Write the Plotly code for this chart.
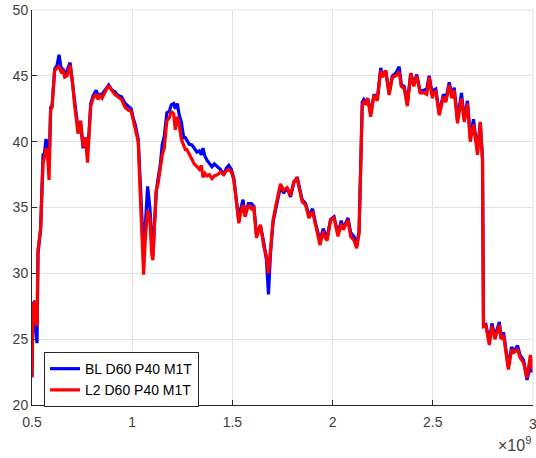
import plotly.graph_objects as go

# x in units of 1e9
x_e9 = [0.500,0.505,0.510,0.515,0.520,0.525,0.530,0.543,0.555,0.562,0.570,0.578,0.585,0.593,0.600,0.613,0.625,0.635,0.645,0.655,
        0.663,0.675,0.690,0.700,0.713,0.730,0.743,0.755,0.767,0.777,0.785,0.793,0.805,0.820,0.830,0.838,0.850,0.863,0.875,0.883,
        0.900,0.913,0.930,0.947,0.965,0.980,0.995,1.005,1.015,1.030,1.040,1.050,1.057,1.065,1.077,1.088,1.097,1.103,1.112,1.120,
        1.130,1.140,1.150,1.160,1.173,1.185,1.195,1.207,1.215,1.225,1.235,1.245,1.257,1.265,1.273,1.285,1.298,1.310,1.323,1.335,
        1.345,1.353,1.363,1.373,1.385,1.398,1.410,1.427,1.440,1.457,1.470,1.482,1.495,1.507,1.515,1.532,1.540,1.553,1.563,1.580,
        1.595,1.607,1.620,1.640,1.657,1.670,1.680,1.690,1.703,1.723,1.740,1.755,1.773,1.790,1.807,1.823,1.835,1.848,1.865,1.882,
        1.900,1.915,1.937,1.953,1.963,1.973,1.990,2.007,2.027,2.043,2.053,2.077,2.090,2.107,2.120,2.132,2.148,2.155,2.165,2.175,
        2.190,2.207,2.223,2.240,2.250,2.265,2.282,2.298,2.315,2.332,2.343,2.357,2.373,2.390,2.405,2.420,2.437,2.457,2.470,2.482,
        2.498,2.503,2.515,2.532,2.553,2.565,2.582,2.595,2.607,2.623,2.643,2.657,2.673,2.687,2.703,2.715,2.723,2.737,2.748,2.753,
        2.765,2.782,2.795,2.810,2.832,2.840,2.853,2.877,2.893,2.905,2.923,2.935,2.953,2.970,2.987,2.993,3.000]

bl = [22.1,27.5,27.8,27.9,25.5,24.7,31.5,33.4,39.0,39.1,40.2,39.5,38.0,42.6,42.7,45.5,45.8,46.6,45.6,45.5,
      45.1,45.4,46.0,44.7,42.8,40.9,41.3,39.5,40.3,39.4,40.8,42.9,43.5,43.9,43.5,43.6,43.6,43.9,44.1,44.3,
      43.9,43.8,43.5,43.4,42.9,42.7,42.5,41.8,41.3,40.2,37.0,33.5,31.5,33.5,36.6,35.0,32.5,31.3,34.0,36.2,
      37.3,38.2,39.8,40.4,42.2,42.3,42.8,42.9,42.5,42.9,42.0,41.5,40.3,40.3,40.1,39.8,39.75,39.5,39.2,39.3,
      39.0,39.5,38.9,38.6,38.4,38.1,38.3,38.1,37.9,37.5,38.0,38.2,37.9,37.2,36.3,34.0,34.8,35.6,34.5,35.3,
      35.3,35.1,33.0,33.6,32.3,31.0,28.4,31.5,33.9,35.5,36.6,36.1,36.5,35.8,36.9,37.3,36.5,35.6,35.3,34.4,
      34.9,33.8,32.5,33.4,33.0,32.8,34.1,34.3,33.0,34.0,33.4,34.2,33.1,32.8,32.1,33.2,43.0,43.2,43.0,43.3,
      42.2,43.6,43.2,45.6,45.0,45.4,43.7,45.0,45.2,45.7,44.3,44.2,42.9,45.2,44.4,45.1,43.8,43.9,44.0,45.0,
      43.5,43.9,44.0,42.2,43.6,43.2,44.5,43.6,44.1,41.7,43.7,41.7,43.1,40.3,41.7,40.2,39.3,41.4,38.7,26.0,
      26.1,24.8,26.2,25.2,26.3,25.2,25.5,22.9,24.4,24.1,24.5,23.8,23.4,21.9,23.0,22.5,22.7]

l2 = [22.1,27.8,26.5,27.9,26.2,26.0,31.8,33.3,38.4,38.8,39.5,38.9,37.1,42.4,42.6,45.4,45.6,45.7,45.3,45.4,
      44.9,45.0,45.8,44.8,42.7,40.6,41.6,39.6,40.3,38.4,40.6,42.7,43.3,43.6,43.2,43.5,43.3,43.8,44.1,44.2,
      43.8,43.6,43.4,43.2,42.6,42.4,42.3,41.6,41.1,40.0,36.0,32.0,29.9,32.5,34.8,34.2,31.5,31.0,33.5,36.3,
      36.9,37.8,39.0,39.5,41.6,41.8,42.3,42.1,40.9,41.9,41.2,40.2,39.6,39.4,39.4,39.0,38.6,38.3,38.1,37.9,
      38.2,37.3,37.6,37.4,37.5,37.2,37.4,37.5,37.7,37.5,37.8,37.9,37.7,37.1,36.1,33.8,34.5,35.2,34.3,35.2,
      34.9,35.0,32.7,33.7,32.0,31.3,30.0,32.0,34.05,35.6,36.8,36.3,36.5,35.9,37.0,37.2,36.4,35.45,35.2,34.2,
      34.7,33.55,32.15,33.2,32.7,32.5,34.05,34.2,32.8,33.8,33.3,34.05,32.8,32.5,31.9,33.0,42.7,43.0,42.9,43.3,
      41.9,43.55,43.1,45.4,44.9,45.4,43.55,44.9,45.0,45.3,44.2,44.05,42.7,45.2,44.2,45.0,43.7,43.7,43.6,44.9,
      43.3,43.7,43.8,42.0,43.4,43.0,44.3,43.3,43.9,41.4,43.3,41.5,42.9,40.0,41.3,40.0,39.0,41.5,38.6,25.95,
      26.0,24.55,26.0,25.0,26.1,25.0,25.3,22.7,24.2,24.0,24.2,23.6,23.2,22.05,23.8,23.3,22.6]

x_tick_vals = [0.5, 1, 1.5, 2, 2.5]
x_tick_text = ["0.5", "1", "1.5", "2", "2.5"]
x_last_tick = 3
y_tick_vals = [20, 25, 30, 35, 40, 45, 50]

names = ["BL D60 P40 M1T", "L2 D60 P40 M1T"]

x = [v * 1e9 for v in x_e9]
font = "Liberation Sans, Arial, sans-serif"
axis_col = "#262626"
tick_col = "#404040"
grid_col = "#e3e3e3"

fig = go.Figure()
fig.add_trace(go.Scatter(x=x, y=bl, mode="lines", name=names[0],
                         line=dict(color="#0000ff", width=3.2)))
fig.add_trace(go.Scatter(x=x, y=l2, mode="lines", name=names[1],
                         line=dict(color="#ff0000", width=3.2)))

fig.update_layout(
    width=536, height=458,
    margin=dict(l=32, r=3, t=10, b=53),
    paper_bgcolor="white", plot_bgcolor="white",
    font=dict(family=font, size=13, color=tick_col),
    showlegend=True,
    legend=dict(x=0.024, y=0.134, xanchor="left", yanchor="top",
                bgcolor="white", bordercolor=axis_col, borderwidth=1,
                font=dict(family=font, size=14, color="#000000"),
                tracegroupgap=0),
    xaxis=dict(range=[0.5e9, 3e9], tickvals=[v * 1e9 for v in x_tick_vals + [x_last_tick]],
               ticktext=x_tick_text + [""],
               showgrid=True, gridcolor=grid_col, gridwidth=1, zeroline=False,
               showline=True, linecolor=axis_col, linewidth=1,
               ticks="inside", ticklen=5, tickcolor=axis_col, ticklabelstandoff=4,
               tickfont=dict(family=font, size=14, color=tick_col)),
    yaxis=dict(range=[20, 50], tickvals=y_tick_vals,
               showgrid=True, gridcolor=grid_col, gridwidth=1, zeroline=False,
               showline=True, linecolor=axis_col, linewidth=1,
               ticks="inside", ticklen=5, tickcolor=axis_col,
               tickfont=dict(family=font, size=14, color=tick_col)),
)
# top and right light border
fig.add_shape(type="line", xref="paper", yref="paper", x0=0, x1=1, y0=1, y1=1,
              line=dict(color=grid_col, width=1))
fig.add_shape(type="line", xref="paper", yref="paper", x0=1, x1=1, y0=0, y1=1,
              line=dict(color=grid_col, width=1))
# last x tick label (partly at the edge, as in the original)
fig.add_annotation(text=str(x_last_tick), x=x_last_tick * 1e9, xref="x", yref="paper", y=-0.023,
                   xanchor="center", yanchor="top", showarrow=False,
                   font=dict(family=font, size=14, color=tick_col))
fig.add_annotation(text="×10<sup>9</sup>", xref="paper", yref="paper", x=1.0, y=-0.128,
                   xanchor="right", yanchor="bottom", showarrow=False,
                   font=dict(family=font, size=16, color=tick_col))

fig.write_html("out.html")
